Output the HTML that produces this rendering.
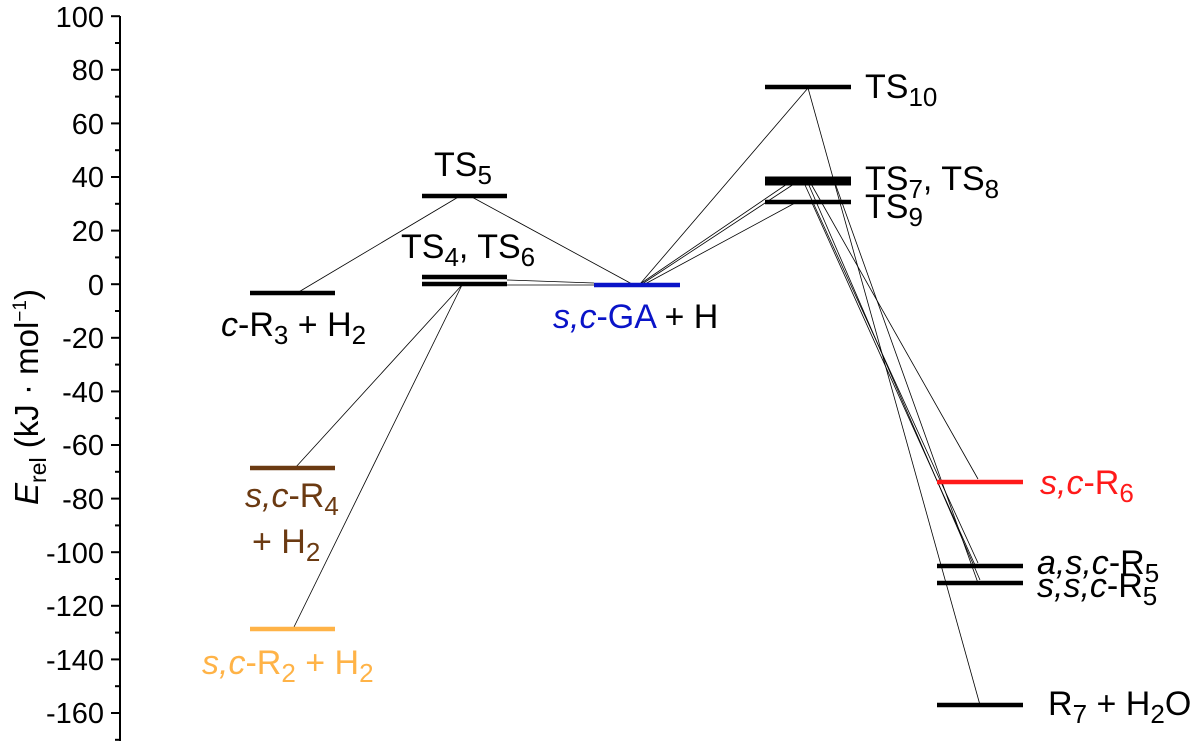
<!DOCTYPE html>
<html><head><meta charset="utf-8"><style>
html,body{margin:0;padding:0;background:#fff;}
svg{display:block;font-family:"Liberation Sans",sans-serif;}
</style></head><body>
<svg width="1200" height="746" viewBox="0 0 1200 746" xmlns="http://www.w3.org/2000/svg">
<line x1="120" y1="16" x2="120" y2="741" stroke="#000" stroke-width="2"/>
<g stroke="#000" stroke-width="2">
<line x1="111" y1="16.2" x2="120" y2="16.2"/><line x1="115" y1="43" x2="120" y2="43"/>
<line x1="111" y1="69.8" x2="120" y2="69.8"/><line x1="115" y1="96.6" x2="120" y2="96.6"/>
<line x1="111" y1="123.4" x2="120" y2="123.4"/><line x1="115" y1="150.2" x2="120" y2="150.2"/>
<line x1="111" y1="177" x2="120" y2="177"/><line x1="115" y1="203.8" x2="120" y2="203.8"/>
<line x1="111" y1="230.6" x2="120" y2="230.6"/><line x1="115" y1="257.4" x2="120" y2="257.4"/>
<line x1="111" y1="284.2" x2="120" y2="284.2"/><line x1="115" y1="311" x2="120" y2="311"/>
<line x1="111" y1="337.8" x2="120" y2="337.8"/><line x1="115" y1="364.6" x2="120" y2="364.6"/>
<line x1="111" y1="391.4" x2="120" y2="391.4"/><line x1="115" y1="418.2" x2="120" y2="418.2"/>
<line x1="111" y1="445" x2="120" y2="445"/><line x1="115" y1="471.8" x2="120" y2="471.8"/>
<line x1="111" y1="498.6" x2="120" y2="498.6"/><line x1="115" y1="525.4" x2="120" y2="525.4"/>
<line x1="111" y1="552.2" x2="120" y2="552.2"/><line x1="115" y1="579" x2="120" y2="579"/>
<line x1="111" y1="605.8" x2="120" y2="605.8"/><line x1="115" y1="632.6" x2="120" y2="632.6"/>
<line x1="111" y1="659.4" x2="120" y2="659.4"/><line x1="115" y1="686.2" x2="120" y2="686.2"/>
<line x1="111" y1="713" x2="120" y2="713"/><line x1="115" y1="739.8" x2="120" y2="739.8"/>
</g>
<g font-size="29" text-anchor="end" fill="#000">
<text x="104" y="27">100</text><text x="104" y="80">80</text><text x="104" y="134">60</text>
<text x="104" y="187">40</text><text x="104" y="241">20</text><text x="104" y="295">0</text>
<text x="104" y="348">-20</text><text x="104" y="402">-40</text><text x="104" y="455">-60</text>
<text x="104" y="509">-80</text><text x="104" y="563">-100</text><text x="104" y="616">-120</text>
<text x="104" y="670">-140</text><text x="104" y="723">-160</text>
</g>
<text transform="translate(38,397) rotate(-90)" font-size="33" text-anchor="middle"><tspan font-style="italic">E</tspan><tspan font-size="23" dy="8">rel</tspan><tspan dy="-8"> (kJ · mol</tspan><tspan font-size="19" dy="-12">−1</tspan><tspan dy="12">)</tspan></text>

<g stroke="#000" stroke-width="0.8" fill="none">
<line x1="297" y1="293" x2="460" y2="196"/>
<line x1="470" y1="196" x2="632" y2="284"/>
<line x1="507" y1="280" x2="594" y2="283"/>
<line x1="507" y1="285" x2="594" y2="285"/>
<line x1="462" y1="285" x2="295" y2="468"/>
<line x1="462" y1="285" x2="293" y2="629"/>
<line x1="640" y1="284" x2="808" y2="88"/>
<line x1="640" y1="284" x2="790" y2="182"/>
<line x1="642" y1="284" x2="800" y2="180"/>
<line x1="645" y1="284" x2="795" y2="203"/>
<line x1="808" y1="88" x2="980" y2="705"/>
<line x1="810" y1="182" x2="978" y2="479"/>
<line x1="805" y1="185" x2="978" y2="563"/>
<line x1="808" y1="183" x2="980" y2="580"/>
<line x1="812" y1="203" x2="975" y2="565"/>
<line x1="835" y1="183" x2="978" y2="583"/>
</g>

<g stroke-width="4.5">
<line x1="250" y1="293" x2="335" y2="293" stroke="#000"/>
<line x1="422" y1="196" x2="507" y2="196" stroke="#000"/>
<line x1="422" y1="277" x2="507" y2="277" stroke="#000"/>
<line x1="422" y1="284" x2="507" y2="284" stroke="#000"/>
<line x1="594" y1="285" x2="680" y2="285" stroke="#0a14c8"/>
<line x1="765" y1="87" x2="851" y2="87" stroke="#000"/>
<line x1="765" y1="181" x2="851" y2="181" stroke="#000" stroke-width="9"/>
<line x1="765" y1="202" x2="851" y2="202" stroke="#000"/>
<line x1="250" y1="468" x2="335" y2="468" stroke="#6b3a12"/>
<line x1="250" y1="629" x2="335" y2="629" stroke="#ffb347"/>
<line x1="937" y1="482" x2="1023" y2="482" stroke="#ff1a1a"/>
<line x1="937" y1="566" x2="1023" y2="566" stroke="#000"/>
<line x1="937" y1="583" x2="1023" y2="583" stroke="#000"/>
<line x1="937" y1="705" x2="1023" y2="705" stroke="#000"/>
</g>

<g font-size="34">
<text x="434" y="176">TS<tspan font-size="26" dy="8">5</tspan></text>
<text x="401" y="258">TS<tspan font-size="26" dy="8">4</tspan><tspan dy="-8">, TS</tspan><tspan font-size="26" dy="8">6</tspan></text>
<text x="221" y="336"><tspan font-style="italic">c</tspan>-R<tspan font-size="26" dy="8">3</tspan><tspan dy="-8"> + H</tspan><tspan font-size="26" dy="8">2</tspan></text>
<text x="553" y="328"><tspan fill="#0a14c8"><tspan font-style="italic">s,c</tspan>-GA</tspan> + H</text>
<text x="865" y="98">TS<tspan font-size="26" dy="8">10</tspan></text>
<text x="865" y="190">TS<tspan font-size="26" dy="8">7</tspan><tspan dy="-8">, TS</tspan><tspan font-size="26" dy="8">8</tspan></text>
<text x="865" y="218">TS<tspan font-size="26" dy="8">9</tspan></text>
<text x="245" y="507" fill="#6b3a12"><tspan font-style="italic">s,c</tspan>-R<tspan font-size="26" dy="8">4</tspan></text>
<text x="252" y="553" fill="#6b3a12">+ H<tspan font-size="26" dy="8">2</tspan></text>
<text x="202" y="674" fill="#ffb347"><tspan font-style="italic">s,c</tspan>-R<tspan font-size="26" dy="8">2</tspan><tspan dy="-8"> + H</tspan><tspan font-size="26" dy="8">2</tspan></text>
<text x="1040" y="494" fill="#ff1a1a"><tspan font-style="italic">s,c</tspan>-R<tspan font-size="26" dy="8">6</tspan></text>
<text x="1037" y="574"><tspan font-style="italic">a,s,c</tspan>-R<tspan font-size="26" dy="8">5</tspan></text>
<text x="1037" y="597"><tspan font-style="italic">s,s,c</tspan>-R<tspan font-size="26" dy="8">5</tspan></text>
<text x="1048" y="715">R<tspan font-size="26" dy="8">7</tspan><tspan dy="-8"> + H</tspan><tspan font-size="26" dy="8">2</tspan><tspan dy="-8">O</tspan></text>
</g>
</svg>
</body></html>
